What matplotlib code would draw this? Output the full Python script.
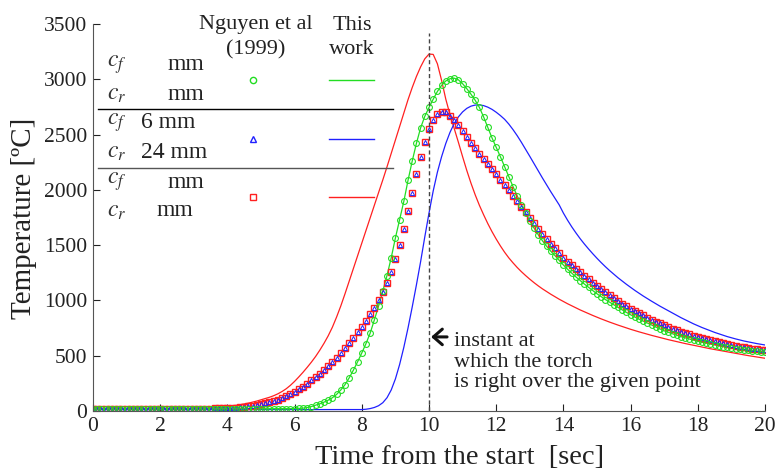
import matplotlib
matplotlib.use("Agg")
import matplotlib.pyplot as plt
import numpy as np
from matplotlib.lines import Line2D

plt.rcParams['font.family'] = ['Liberation Serif', 'DejaVu Serif']
plt.rcParams['mathtext.fontset'] = 'stix'

# sample times (s), every 0.125 s from 0 to 20
t = np.linspace(0, 20, 161)

# Nguyen et al (1999), circles (green case)
nguyen_circ = [20] * 45 + [
    20, 21, 21, 22, 23, 26, 31, 40, 52, 65, 80, 98, 120, 150, 190, 238,
    300, 370, 445, 525, 610, 705, 825, 950, 1085, 1225, 1385, 1565, 1730, 1895, 2085, 2260,
    2420, 2560, 2665, 2745, 2820, 2890, 2945, 2985, 3005, 3010, 2995, 2960, 2915, 2865, 2810, 2745,
    2660, 2565, 2470, 2385, 2300, 2210, 2120, 2030, 1945, 1865, 1790, 1720, 1655, 1595, 1540, 1490,
    1445, 1405, 1362, 1320, 1282, 1246, 1212, 1180, 1148, 1118, 1089, 1060, 1034, 1008, 984, 960,
    937, 914, 892, 870, 850, 831, 813, 795, 777, 759, 742, 725, 711, 698, 685, 672,
    661, 650, 640, 630, 621, 613, 605, 597, 590, 583, 576, 570, 565, 560, 555, 550,
    546, 542, 538, 535]

# Nguyen et al (1999), squares / triangles (they overlap)
nguyen_sq = [20] * 25 + [
    21, 21, 22, 22, 23, 24, 25, 26, 28, 31, 34, 37, 42, 47, 53, 60,
    68, 78, 89, 102, 117, 134, 152, 173, 196, 221, 248, 276, 306, 337, 370, 405,
    442, 482, 524, 568, 614, 662, 712, 764, 818, 874, 934, 1000, 1075, 1160, 1260, 1375,
    1505, 1650, 1810, 1975, 2140, 2295, 2435, 2550, 2635, 2685, 2706, 2700, 2672, 2630, 2583, 2532,
    2480, 2428, 2378, 2328, 2280, 2233, 2187, 2140, 2093, 2046, 1997, 1948, 1898, 1848, 1797, 1747,
    1698, 1650, 1603, 1557, 1513, 1470, 1428, 1388, 1352, 1318, 1285, 1254, 1223, 1193, 1160, 1130,
    1100, 1072, 1045, 1019, 994, 970, 947, 925, 904, 884, 864, 845, 827, 809, 792, 776,
    760, 745, 731, 717, 704, 692, 680, 669, 658, 648, 638, 629, 620, 612, 604, 596,
    589, 582, 576, 570, 565, 560, 555, 551]
nguyen_tri = nguyen_sq

# This work
work_green = nguyen_circ
work_red = [20] * 22 + [
    21, 21, 22, 23, 24, 26, 28, 30, 33, 36, 40, 45, 50, 56, 63, 71,
    80, 90, 101, 112, 124, 138, 155, 176, 201, 232, 268, 308, 350, 395, 442, 493,
    550, 612, 680, 758, 850, 950, 1060, 1175, 1292, 1408, 1523, 1637, 1750, 1862, 1975, 2090,
    2208, 2330, 2452, 2575, 2697, 2815, 2925, 3025, 3112, 3185, 3228, 3225, 3140, 2990, 2820, 2680,
    2555, 2430, 2300, 2175, 2060, 1955, 1860, 1775, 1695, 1622, 1555, 1493, 1436, 1385, 1340, 1298,
    1260, 1225, 1192, 1161, 1132, 1105, 1080, 1056, 1033, 1011, 990, 970, 951, 932, 914, 897,
    880, 864, 848, 833, 818, 804, 790, 777, 764, 751, 739, 727, 716, 705, 694, 684,
    674, 664, 654, 645, 636, 627, 618, 610, 602, 594, 586, 578, 570, 563, 556, 549,
    542, 535, 528, 521, 514, 507, 501, 495, 489, 483, 477]
work_blue = [12] * 64 + [
    13, 16, 22, 32, 48, 75, 120, 190, 290, 420, 575, 750, 940, 1140, 1350, 1575,
    1790, 1990, 2160, 2300, 2420, 2520, 2600, 2660, 2705, 2737, 2757, 2767, 2768, 2762, 2748, 2728,
    2702, 2672, 2638, 2595, 2545, 2490, 2430, 2367, 2303, 2238, 2173, 2108, 2045, 1983, 1923, 1864,
    1790, 1725, 1665, 1610, 1558, 1510, 1465, 1422, 1381, 1342, 1305, 1270, 1237, 1205, 1175, 1146,
    1118, 1091, 1065, 1040, 1016, 993, 970, 948, 927, 905, 884, 864, 844, 825, 806, 788,
    771, 755, 740, 725, 711, 698, 685, 673, 662, 652, 642, 633, 625, 617, 610, 603,
    597]

GREEN = '#22dd22'
BLUE = '#2020ff'
RED = '#ff2020'

W, H = 783, 475
fig = plt.figure(figsize=(W / 100, H / 100), dpi=100)
ax = fig.add_axes([93 / W, 1 - 411 / H, (765 - 93) / W, (411 - 24) / H])

ax.plot(t, work_red, color=RED, lw=0.9)
ax.plot(t, work_blue, color=BLUE, lw=0.9)
ax.plot(t, work_green, color=GREEN, lw=0.9)
ax.plot(t, nguyen_sq, 's', ms=3.8, mfc='none', mec=RED, mew=1.0)
ax.plot(t, nguyen_tri, '^', ms=3, mfc='none', mec=BLUE, mew=0.7)
ax.plot(t, nguyen_circ, 'o', ms=4.2, mfc='none', mec=GREEN, mew=0.8)

ax.axvline(10, ymax=3420 / 3500, color='#444444', lw=1.0, ls=(0, (3, 2)))
ax.annotate('', xy=(9.98, 670), xytext=(10.62, 670),
            arrowprops=dict(arrowstyle='->, head_length=0.4, head_width=0.35',
                            lw=2.2, color='#111111', mutation_scale=16))
ax.text(10.73, 443, 'instant at\nwhich the torch\nis right over the given point',
        fontsize=16, va='center', ha='left', linespacing=1.1, color='#222222')

ax.set_xlim(0, 20)
ax.set_ylim(0, 3500)
ax.set_xticks(range(0, 21, 2))
ax.set_yticks(range(0, 3501, 500))
for s in ['top', 'right']:
    ax.spines[s].set_visible(False)
for s in ['left', 'bottom']:
    ax.spines[s].set_color('#555555')
ax.tick_params(direction='in', length=5, labelsize=15.5, colors='#222222', pad=4)
ax.set_xlabel('Time from the start  [sec]', fontsize=20.5, color='#222222')
ax.xaxis.label.set_va('center')
ax.xaxis.set_label_coords((460 - 93) / (765 - 93), -(458 - 411) / (411 - 24))
ax.set_ylabel('Temperature [ºC]', fontsize=21, color='#222222')
ax.yaxis.set_label_coords(-(93 - 24) / (765 - 93), (411 - 218) / (411 - 24))
ax.yaxis.label.set_va('center')

# custom legend table
def fx(px):
    return px / W

def fy(py):
    return 1 - py / H

tc = '#222222'
fig.text(fx(256), fy(25), 'Nguyen et al', fontsize=16, ha='center', va='center', color=tc)
fig.text(fx(256), fy(50), '(1999)', fontsize=16, ha='center', va='center', color=tc)
fig.text(fx(352), fy(25), 'This', fontsize=16, ha='center', va='center', color=tc)
fig.text(fx(352), fy(50), 'work', fontsize=16, ha='center', va='center', color=tc)

rows = [(65, 95, 'mm', 'mm', 'right'),
        (123, 152, '6 mm', '24 mm', 'left'),
        (182, 211, 'mm', 'mm', 'right')]
for (y1, y2, s1, s2, a1), xr2 in zip(rows, [204, None, 193]):
    fig.text(fx(107), fy(y1), '$c_f$', fontsize=17, ha='left', va='center', color='#333333')
    fig.text(fx(107), fy(y2), '$c_r$', fontsize=17, ha='left', va='center', color='#333333')
    if a1 == 'left':
        fig.text(fx(141), fy(y1), s1, fontsize=17, ha='left', va='center', color=tc)
        fig.text(fx(141), fy(y2), s2, fontsize=17, ha='left', va='center', color=tc)
    else:
        fig.text(fx(204), fy(y1), s1, fontsize=17, ha='right', va='center', color=tc)
        fig.text(fx(xr2), fy(y2), s2, fontsize=17, ha='right', va='center', color=tc)

leg = [(80, 'o', GREEN), (139, '^', BLUE), (197, 's', RED)]
for py, m, c in leg:
    fig.add_artist(Line2D([fx(253)], [fy(py)], marker=m, ms=4.5, mfc='none', mec=c, mew=1.0,
                          ls='none', transform=fig.transFigure))
    fig.add_artist(Line2D([fx(329), fx(374)], [fy(py), fy(py)], color=c, lw=1.0,
                          transform=fig.transFigure))
fig.add_artist(Line2D([fx(98), fx(393)], [fy(109), fy(109)], color='black', lw=1.0,
                      transform=fig.transFigure))
fig.add_artist(Line2D([fx(98), fx(393)], [fy(168), fy(168)], color='#555555', lw=1.0,
                      transform=fig.transFigure))

fig.savefig('out.png', dpi=100)
